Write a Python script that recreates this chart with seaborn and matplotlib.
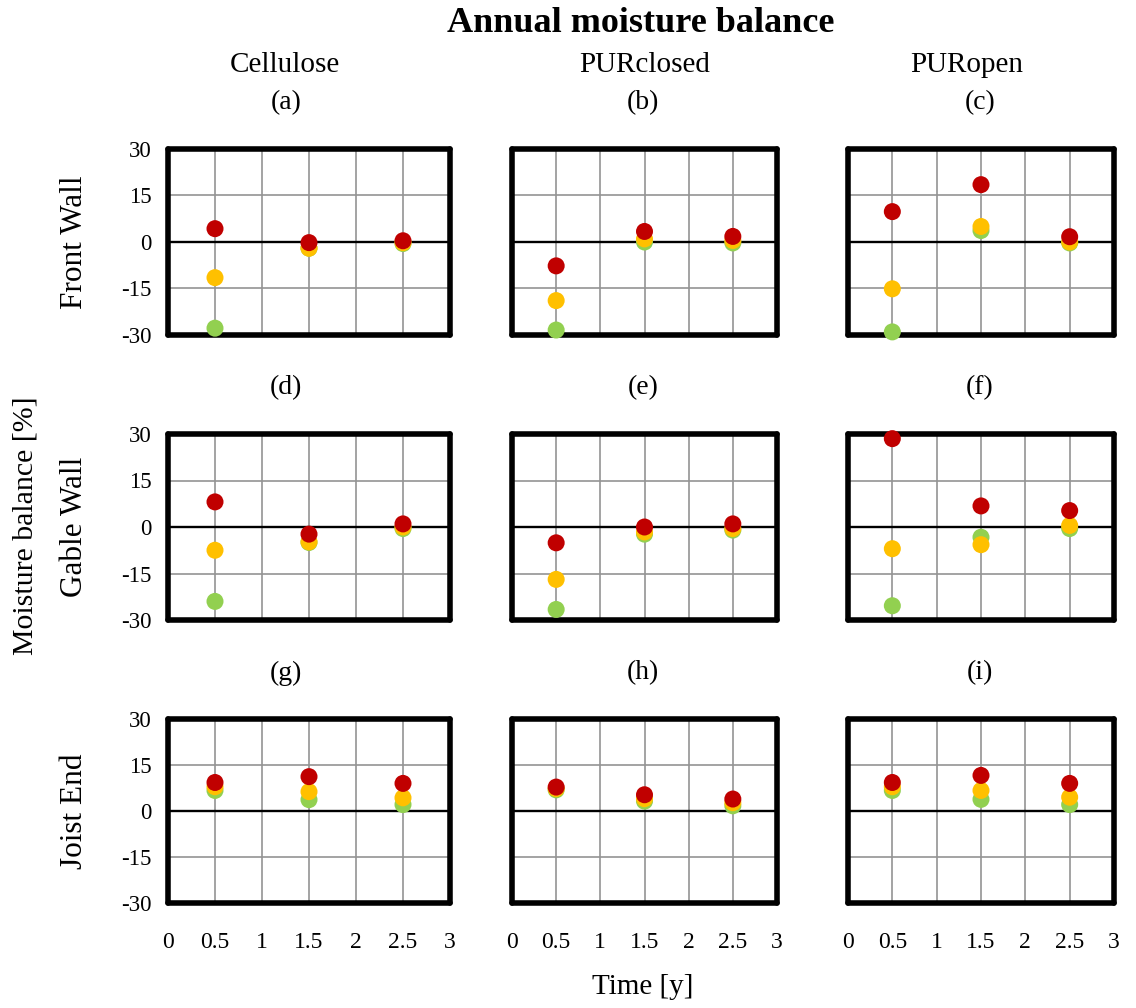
import matplotlib
matplotlib.use("Agg")
import matplotlib.pyplot as plt
import numpy as np
import pandas as pd
import seaborn as sns

# ---- data -------------------------------------------------------------
time_points = [0.5, 1.5, 2.5]
materials = ["Cellulose", "PURclosed", "PURopen"]
components = ["Front Wall", "Gable Wall", "Joist End"]
panel_tags = [["(a)", "(b)", "(c)"], ["(d)", "(e)", "(f)"], ["(g)", "(h)", "(i)"]]
series_order = ["Case 1", "Case 2", "Case 3"]
series_colors = {"Case 1": "#92D050", "Case 2": "#FFC000", "Case 3": "#C00000"}
y_ticks = [-30, -15, 0, 15, 30]
x_ticks = [0, 0.5, 1, 1.5, 2, 2.5, 3]
x_tick_labels = ["0", "0.5", "1", "1.5", "2", "2.5", "3"]

# one row per material: values at 0.5, 1.5, 2.5 years
front_case1 = [[-27.8, -2.0, -0.5], [-28.4, 0.0, -0.3], [-29.0, 3.7, -0.3]]
front_case2 = [[-11.5, -2.0, -0.2], [-18.9, 1.0, 0.5], [-15.1, 5.0, 0.0]]
front_case3 = [[4.3, -0.2, 0.4], [-7.7, 3.4, 1.8], [9.8, 18.5, 1.7]]

gable_case1 = [[-24.0, -5.0, -0.5], [-26.6, -2.3, -1.0], [-25.4, -3.3, -0.5]]
gable_case2 = [[-7.5, -4.8, 0.0], [-16.9, -1.6, -0.5], [-7.0, -5.7, 0.5]]
gable_case3 = [[8.1, -2.3, 1.0], [-5.1, 0.0, 1.0], [28.5, 6.8, 5.3]]

joist_case1 = [[6.7, 3.7, 2.1], [6.9, 3.2, 1.7], [6.7, 3.8, 2.1]]
joist_case2 = [[7.9, 6.3, 4.3], [7.3, 4.0, 2.7], [7.9, 6.7, 4.5]]
joist_case3 = [[9.3, 11.2, 9.0], [7.8, 5.3, 3.9], [9.3, 11.6, 9.0]]

component_series = {
    "Front Wall": [front_case1, front_case2, front_case3],
    "Gable Wall": [gable_case1, gable_case2, gable_case3],
    "Joist End": [joist_case1, joist_case2, joist_case3],
}

rows = []
for comp in components:
    for s_name, table in zip(series_order, component_series[comp]):
        for m_idx, mat in enumerate(materials):
            for t, v in zip(time_points, table[m_idx]):
                rows.append({"component": comp, "material": mat,
                             "series": s_name, "time": t, "balance": v})
df = pd.DataFrame(rows)

# ---- figure -----------------------------------------------------------
sns.set_style("white")
plt.rcParams["font.family"] = ["Liberation Serif", "DejaVu Serif"]
plt.rcParams["text.color"] = "black"
plt.rcParams["xtick.color"] = "black"
plt.rcParams["ytick.color"] = "black"

W, H = 1136, 1008
fig = plt.figure(figsize=(W / 100, H / 100), dpi=100)

col_px = [(168, 450), (512, 777), (848, 1114)]
row_px = [(149, 335), (434, 620), (719, 903)]
title_cx = [285, 645, 967]
tag_cx = [286, 643, 980]

for r, comp in enumerate(components):
    for c, mat in enumerate(materials):
        x0, x1 = col_px[c]
        y0, y1 = row_px[r]
        ax = fig.add_axes([x0 / W, 1 - y1 / H, (x1 - x0) / W, (y1 - y0) / H])
        sub = df[(df.component == comp) & (df.material == mat)]
        sns.scatterplot(data=sub, x="time", y="balance", hue="series",
                        hue_order=series_order, palette=series_colors,
                        s=150, linewidth=0, legend=False, ax=ax,
                        zorder=5, clip_on=False)
        ax.set_xlim(0, 3)
        ax.set_ylim(-30, 30)
        ax.set_xticks(x_ticks)
        ax.set_yticks(y_ticks)
        ax.grid(True, color="#939393", linewidth=1.2)
        ax.set_axisbelow(True)
        ax.axhline(0, color="black", linewidth=1.7, zorder=2)
        for sp in ax.spines.values():
            sp.set_visible(True)
            sp.set_color("black")
            sp.set_linewidth(4)
            sp.set_capstyle("round")
            sp.set_zorder(4)
        ax.tick_params(axis="y", length=0, labelsize=16.5, pad=12,
                       labelcolor="black")
        ax.tick_params(axis="x", length=0, labelsize=17, pad=21,
                       labelcolor="black")
        if c == 0:
            ax.set_yticklabels([str(v) for v in y_ticks])
        else:
            ax.set_yticklabels([])
        if r == 2:
            ax.set_xticklabels(x_tick_labels)
        else:
            ax.set_xticklabels([])
        ax.set_xlabel("")
        ax.set_ylabel("")

        fig.text(tag_cx[c] / W, 1 - (y0 - 46) / H, panel_tags[r][c],
                 ha="center", va="center", fontsize=20)
        if r == 0:
            fig.text(title_cx[c] / W, 1 - 65 / H, mat, ha="center",
                     va="center", fontsize=21)
    fig.text(75 / W, 1 - ((row_px[r][0] + row_px[r][1]) / 2) / H, comp,
             rotation=90, ha="center", va="center", fontsize=22.5)

fig.text(641 / W, 1 - 23 / H, "Annual moisture balance", ha="center",
         va="center", fontsize=26, fontweight="bold")
fig.text(26 / W, 1 - 526 / H, "Moisture balance [%]", rotation=90,
         ha="center", va="center", fontsize=21.5)
fig.text(643 / W, 1 - 987 / H, "Time [y]", ha="center", va="center",
         fontsize=21)

fig.savefig("out.png", dpi=100)
